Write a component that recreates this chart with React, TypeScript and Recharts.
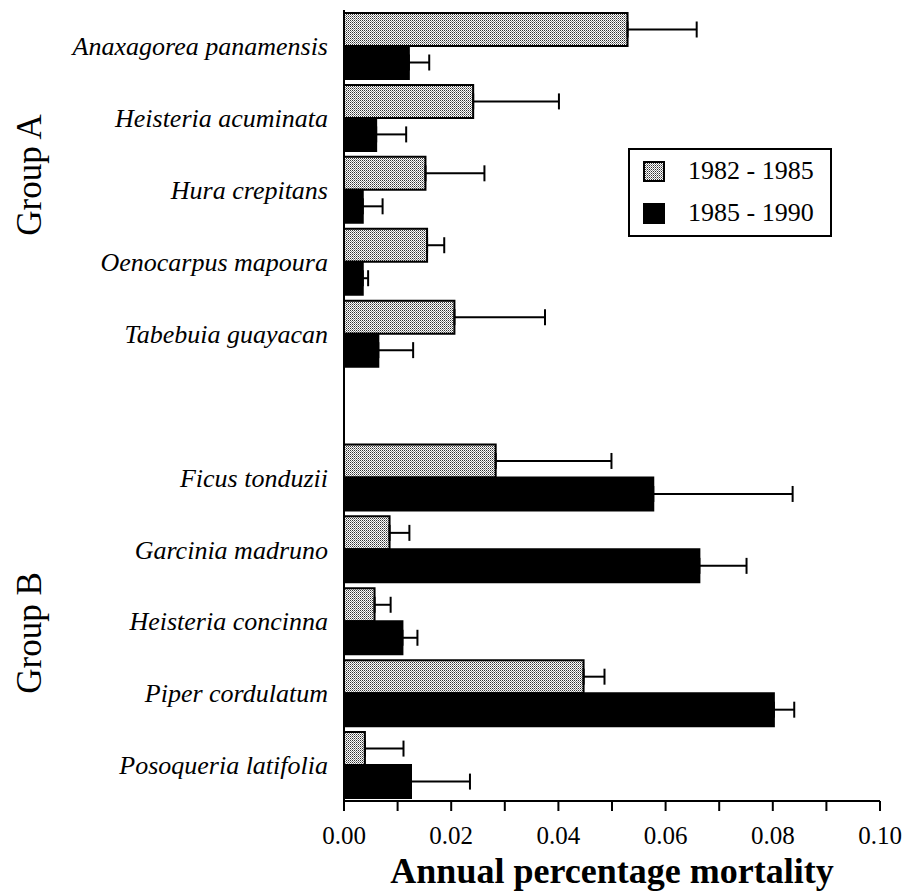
import { BarChart, Bar, XAxis, YAxis, ErrorBar, Legend } from "recharts";

const species = [
  "Anaxagorea panamensis",
  "Heisteria acuminata",
  "Hura crepitans",
  "Oenocarpus mapoura",
  "Tabebuia guayacan",
  "",
  "Ficus tonduzii",
  "Garcinia madruno",
  "Heisteria concinna",
  "Piper cordulatum",
  "Posoqueria latifolia",
];

// 1982 - 1985
const mortality8285 = [0.0529, 0.0241, 0.0152, 0.0155, 0.0206, null, 0.0283, 0.0085, 0.0057, 0.0447, 0.0039];
const error8285 = [0.0129, 0.016, 0.011, 0.0032, 0.0169, null, 0.0216, 0.0037, 0.003, 0.0039, 0.0072];

// 1985 - 1990
const mortality8590 = [0.0121, 0.006, 0.0035, 0.0035, 0.0064, null, 0.0577, 0.0663, 0.0109, 0.0802, 0.0125];
const error8590 = [0.0038, 0.0056, 0.0037, 0.001, 0.0065, null, 0.026, 0.0088, 0.0028, 0.0038, 0.011];

const periods = ["1982 - 1985", "1985 - 1990"];
const xTicks = [0, 0.01, 0.02, 0.03, 0.04, 0.05, 0.06, 0.07, 0.08, 0.09, 0.1];
const groupLabels = ["Group A", "Group B"];

const FONT = "'Liberation Serif', 'Times New Roman', serif";

const data = species.map((name, i) => ({
  name,
  early: mortality8285[i],
  earlyErr: error8285[i] == null ? null : [0, error8285[i]],
  late: mortality8590[i],
  lateErr: error8590[i] == null ? null : [0, error8590[i]],
}));

// tick marks sit on the row boundaries, not on the row centres
const boundaryTicks = species.map((_, i) => i).concat(species.length);

function LegendBox(props: any) {
  const items = props.payload || [];
  return (
    <div
      style={{
        border: "2px solid #000",
        width: 200,
        height: 85,
        fontFamily: FONT,
        fontSize: 26,
        background: "#fff",
      }}
    >
      {items.map((entry: any) => (
        <div
          key={entry.value}
          style={{ display: "flex", alignItems: "center", height: 42, paddingLeft: 13 }}
        >
          <svg width={22} height={21} style={{ display: "block" }}>
            <rect x={1} y={1} width={20} height={19} fill={entry.color} stroke="#000" strokeWidth={2} />
          </svg>
          <span style={{ marginLeft: 23, lineHeight: 1 }}>{entry.value}</span>
        </div>
      ))}
    </div>
  );
}

export default function App() {
  return (
    <div style={{ fontFamily: FONT, position: "absolute", left: 0, top: 0 }}>
      <BarChart
        width={919}
        height={894}
        data={data}
        layout="vertical"
        margin={{ top: 10, right: 39, left: 0, bottom: 0 }}
        barCategoryGap={3}
        barGap={0}
      >
        <defs>
          <pattern id="stipple" width={2} height={2} patternUnits="userSpaceOnUse">
            <rect width={2} height={2} fill="#ffffff" />
            <rect x={0} y={0} width={1} height={1} fill="#333333" />
            <rect x={1} y={1} width={1} height={1} fill="#8a8a8a" />
          </pattern>
        </defs>
        <XAxis
          type="number"
          domain={[0, 0.1]}
          ticks={xTicks}
          interval={0}
          height={93}
          tickSize={10}
          tickMargin={15}
          axisLine={{ stroke: "#000", strokeWidth: 2 }}
          tickLine={{ stroke: "#000", strokeWidth: 2 }}
          tick={{ fill: "#000", fontSize: 25, fontFamily: FONT }}
          tickFormatter={(v: number) => (Math.round(v * 100) % 2 === 0 ? v.toFixed(2) : "")}
          label={{
            value: "Annual percentage mortality",
            position: "insideBottom",
            offset: 11,
            fill: "#000",
            fontSize: 36,
            fontWeight: "bold",
            fontFamily: FONT,
          }}
        />
        <XAxis
          xAxisId="top"
          orientation="top"
          type="number"
          domain={[0, 0.1]}
          height={0}
          tick={false}
          tickLine={false}
          axisLine={{ stroke: "#000", strokeWidth: 2 }}
        />
        <YAxis
          yAxisId="edge"
          type="number"
          domain={[0, species.length]}
          ticks={boundaryTicks}
          interval={0}
          width={0}
          tick={false}
          axisLine={false}
          tickSize={5}
          tickLine={{ stroke: "#000", strokeWidth: 2 }}
        />
        <YAxis
          yAxisId="cat"
          type="category"
          dataKey="name"
          width={344}
          interval={0}
          tickLine={false}
          tickSize={0}
          tickMargin={16}
          axisLine={{ stroke: "#000", strokeWidth: 2 }}
          tick={{ fill: "#000", fontSize: 26, fontStyle: "italic", fontFamily: FONT }}
        />
        <YAxis
          yAxisId="right"
          orientation="right"
          type="number"
          domain={[0, 1]}
          width={0}
          tick={false}
          tickLine={false}
          axisLine={{ stroke: "#000", strokeWidth: 2 }}
        />
        <Legend
          layout="vertical"
          align="center"
          verticalAlign="middle"
          content={<LegendBox />}
          wrapperStyle={{ left: 628, top: 148, width: 204, height: 89 }}
        />
        <Bar
          yAxisId="cat"
          dataKey="early"
          name={periods[0]}
          fill="url(#stipple)"
          stroke="#000"
          strokeWidth={2}
          isAnimationActive={false}
        >
          <ErrorBar dataKey="earlyErr" direction="x" width={8} stroke="#000" strokeWidth={2} />
        </Bar>
        <Bar
          yAxisId="cat"
          dataKey="late"
          name={periods[1]}
          fill="#000"
          stroke="#000"
          strokeWidth={2}
          isAnimationActive={false}
        >
          <ErrorBar dataKey="lateErr" direction="x" width={8} stroke="#000" strokeWidth={2} />
        </Bar>
        <text
          transform="translate(41 175) rotate(-90)"
          textAnchor="middle"
          fontSize={35}
          fontFamily={FONT}
          fill="#000"
        >
          {groupLabels[0]}
        </text>
        <text
          transform="translate(41 633) rotate(-90)"
          textAnchor="middle"
          fontSize={35}
          fontFamily={FONT}
          fill="#000"
        >
          {groupLabels[1]}
        </text>
      </BarChart>
    </div>
  );
}
